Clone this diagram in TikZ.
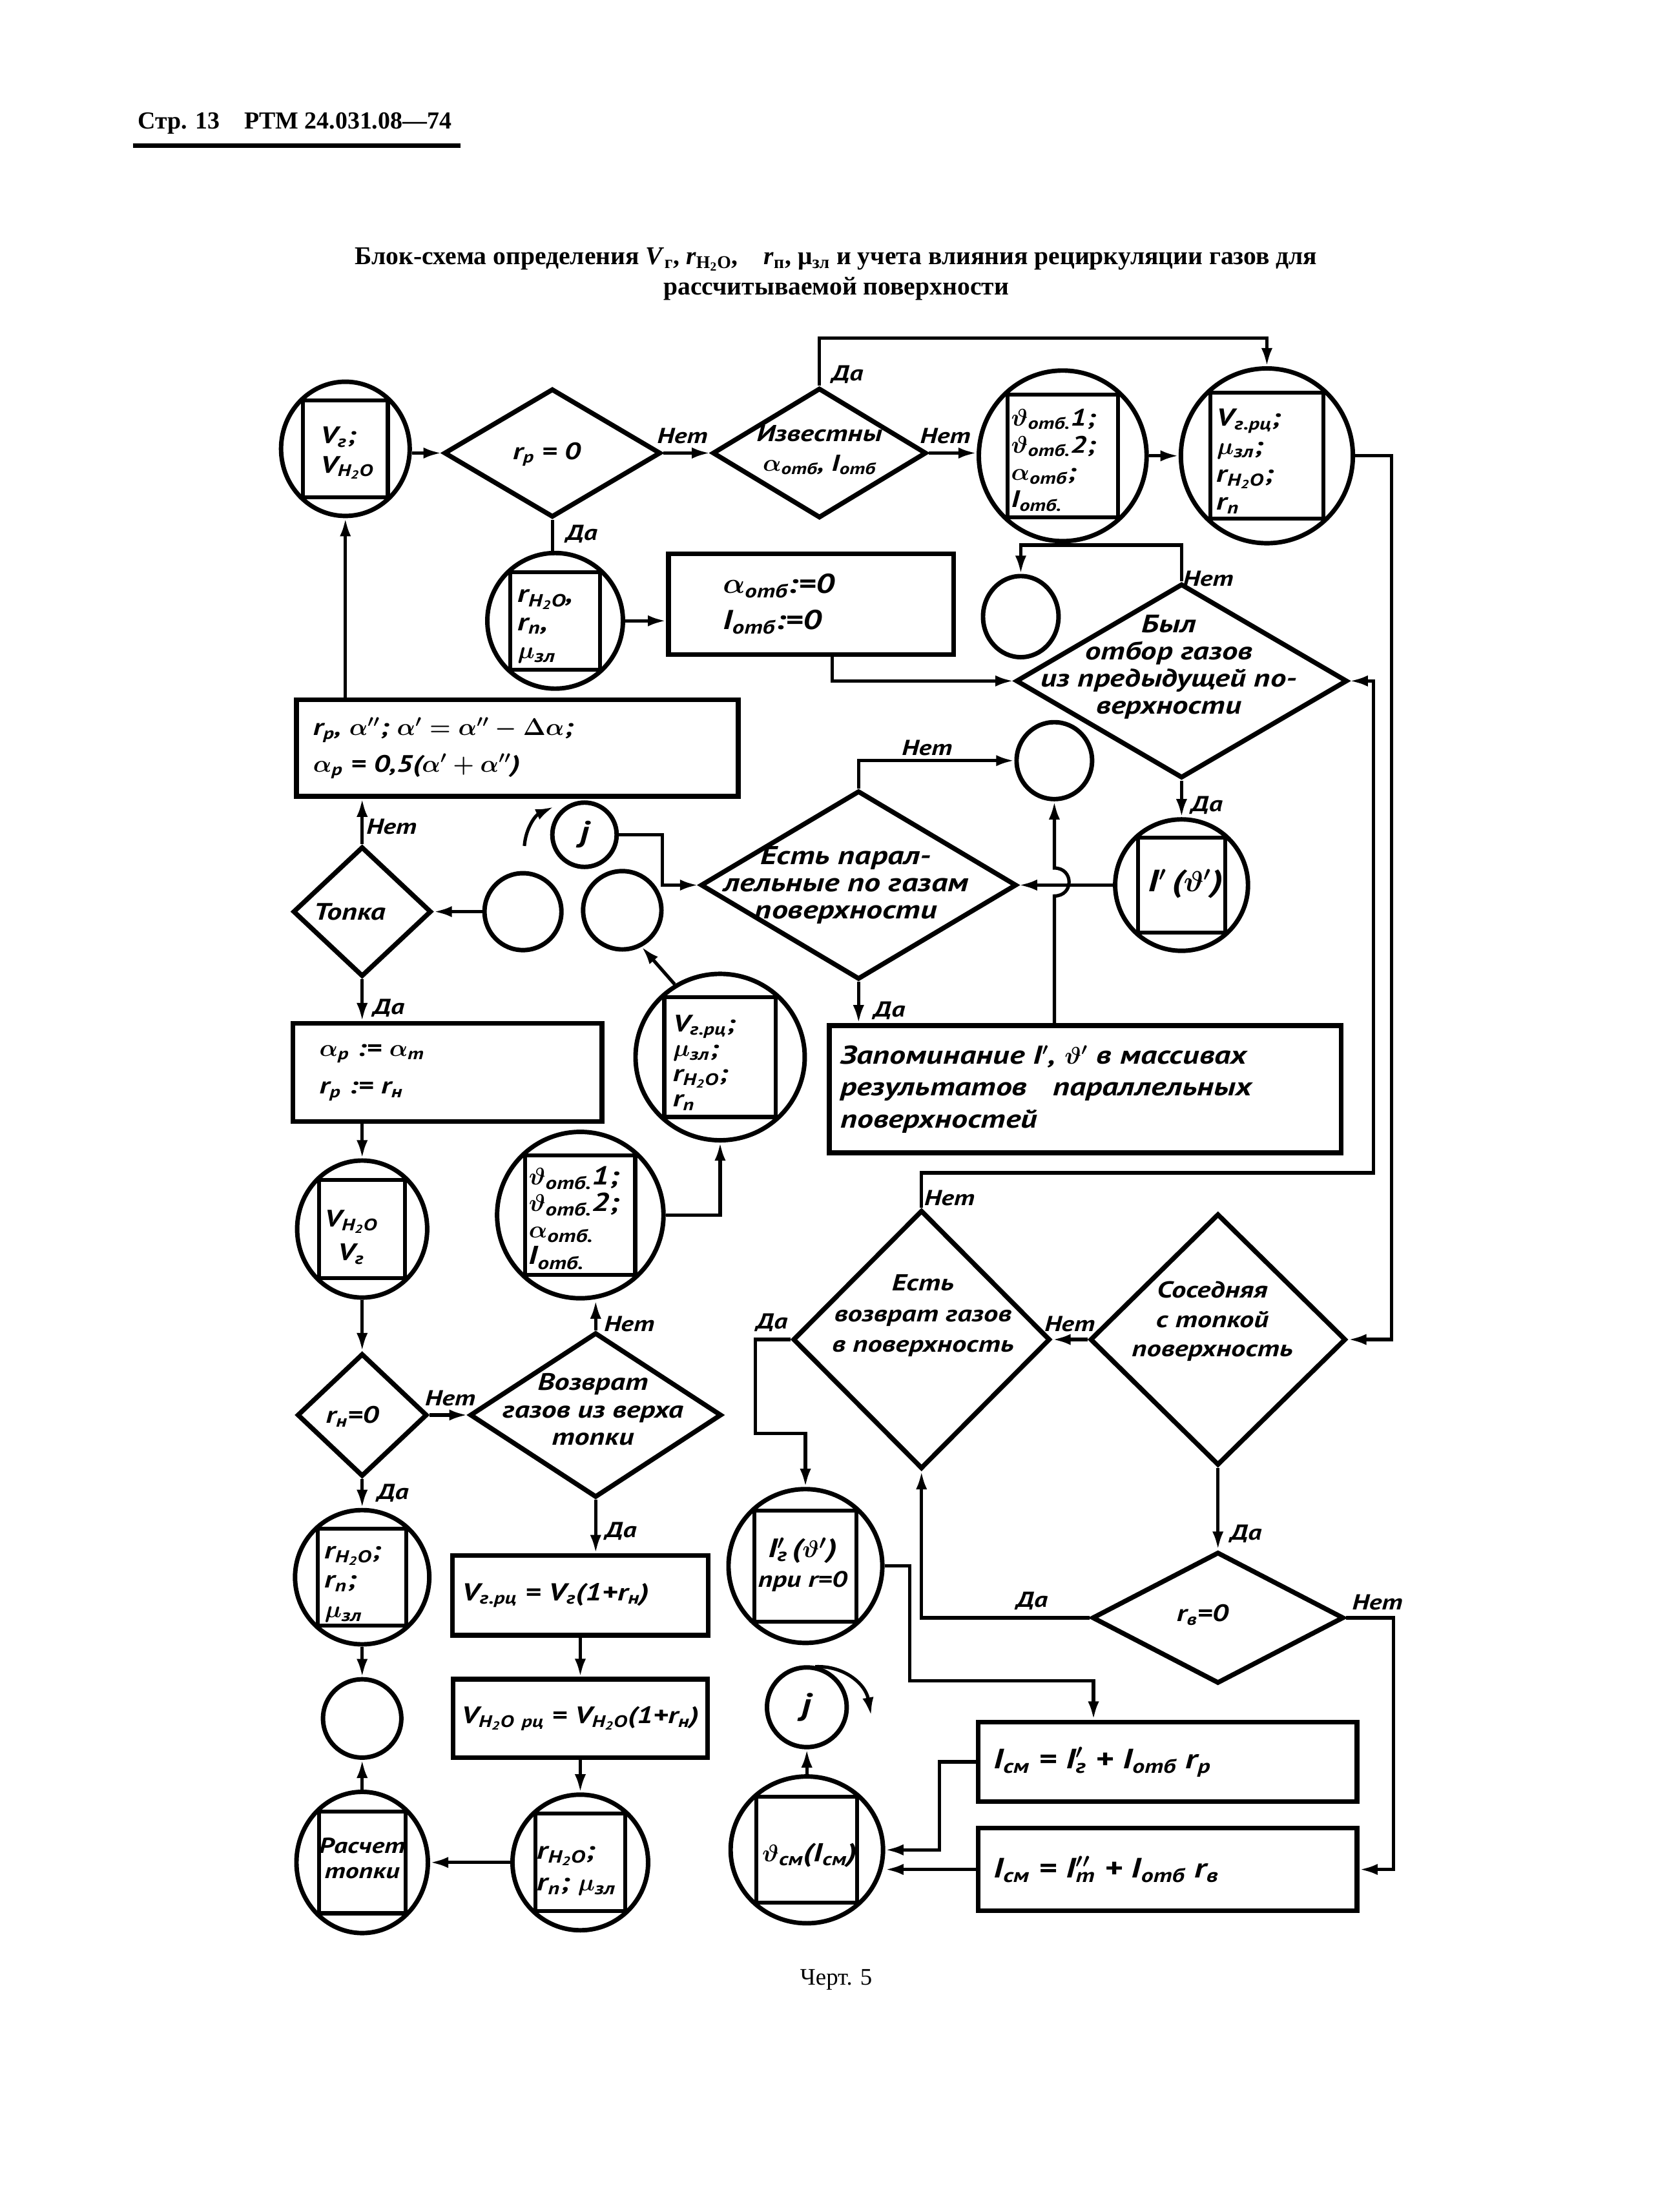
\documentclass[tikz,border=0pt]{standalone}
\usepackage{fontspec}
\setmainfont{Liberation Serif}
\newfontfamily\lab[FakeStretch=1.25]{PT Sans}
\usetikzlibrary{shapes.geometric,arrows.meta,calc}

\newcommand\razm[2]{\lab\bfseries\itshape\boldmath\fontsize{#1}{#2}\selectfont}
\newcommand\nz[1]{\textsubscript{#1}}
\newcommand\hdo{H\textsubscript{2}O}
\newcommand\shtr[1]{\rlap{$'$}\nz{#1}}
\newcommand\dshtr[1]{\rlap{$''$}\nz{#1}}

\tikzset{
  obv/.style={draw, line width=3.4pt},
  krug/.style={obv, ellipse, inner sep=0pt, line width=3.2pt},
  blok/.style={krug, path picture={
      \draw[x=1pt, y=1pt, line width=2.8pt]
        let \p1=(path picture bounding box.south west),
            \p2=(path picture bounding box.north east),
            \n1={0.5*(\x2-\x1)}, \n2={0.5*(\y2-\y1)},
            \n3={0.5*(\x2+\x1)}, \n4={0.5*(\y2+\y1)} in
        (\n3-0.66*\n1, \n4-0.72*\n2) rectangle (\n3+0.66*\n1, \n4+0.72*\n2)
        (\n3-\n1, \n4-0.72*\n2) -- (\n3+\n1, \n4-0.72*\n2)
        (\n3-\n1, \n4+0.72*\n2) -- (\n3+\n1, \n4+0.72*\n2);
    }},
  romb/.style={obv, diamond, inner sep=0pt},
  pr/.style={obv, rectangle, inner ysep=0pt, align=left, font=\razm{17}{22}},
  tx/.style={inner sep=0pt, align=left, font=\razm{17}{21}},
  nadp/.style={inner sep=0pt, font=\razm{15.5}{17}},
  sv/.style={line width=2.4pt, -{Latex[length=13pt,width=8pt]}},
  lin/.style={line width=2.4pt},
}

\begin{document}
\begin{tikzpicture}[x=1pt, y=-1pt]
  \fill[white] (0,0) rectangle (1200,1582);

  % шапка и заголовок
  \node[anchor=west, font=\bfseries\fontsize{17.5}{21}\selectfont] (str) at (95,88) {Стр. 13\quad РТМ 24.031.08—74};
  \draw[line width=3.2pt] ([yshift=-5pt]str.south west) -- ([yshift=-5pt,xshift=3pt]str.south east);
  \node[align=center, font=\bfseries\fontsize{18.3}{21.5}\selectfont] (zag) at (598,196)
    {Блок-схема определения \textit{V}\nz{г}, \textit{r}\nz{\hdo},\quad \textit{r}\nz{п}, μ\nz{зл} и учета влияния рециркуляции газов для\\рассчитываемой поверхности};
  \node[font=\fontsize{17}{20}\selectfont] (chert) at (598,1416) {Черт. 5};

  % верхний ряд
  \node[blok, minimum width=92pt, minimum height=96pt] (vg) at (247,321) {};
  \node[tx, anchor=west] (vg-t) at (229,324) {V\nz{г};\\V\nz{\hdo}};
  \node[romb, minimum width=155pt, minimum height=92pt] (rp) at (395,324) {};
  \node[tx] (rp-t) at (391,325) {r\nz{p} = 0};
  \node[romb, minimum width=153pt, minimum height=93pt] (izv) at (586,324) {};
  \node[tx, align=center, font=\razm{16.5}{21}] (izv-t) at (586,322) {Известны\\$\alpha$\nz{отб}, I\nz{отб}};
  \node[blok, minimum width=120pt, minimum height=122pt] (otb) at (760,326) {};
  \node[tx, anchor=west, font=\razm{17}{19.5}] (otb-t) at (723,329)
    {$\vartheta$\nz{отб.}1;\\$\vartheta$\nz{отб.}2;\\$\alpha$\nz{отб};\\I\nz{отб.}};
  \node[blok, minimum width=123pt, minimum height=125pt] (vrc) at (906,326) {};
  \node[tx, anchor=west, font=\razm{17.5}{20}] (vrc-t) at (870,330)
    {V\nz{г.рц};\\$\mu$\nz{зл};\\r\nz{\hdo};\\r\nz{п}};

  % второй ряд
  \node[blok, minimum width=97pt, minimum height=97pt] (rh) at (397,444) {};
  \node[tx, anchor=west, font=\razm{18}{20}] (rh-t) at (370,448) {r\nz{\hdo},\\r\nz{п},\\$\mu$\nz{зл}};
  \node[pr, minimum width=204pt, minimum height=72pt, inner xsep=39pt, text width=126pt, font=\razm{19.5}{22}] (nul) at (580,432)
    {$\alpha$\nz{отб}:=0\\[4pt]I\nz{отб}:=0};
  \node[krug, minimum width=54pt, minimum height=58pt] (pust1) at (730,441) {};
  \node[romb, minimum width=237pt, minimum height=139pt] (byl) at (845,487) {};
  \node[tx, align=center, font=\razm{18}{19.5}] (byl-t) at (836,477) {Был\\отбор газов\\из предыдущей по-\\верхности};

  % средняя часть
  \node[pr, minimum width=316pt, minimum height=69pt, inner xsep=12pt, text width=292pt] (alf) at (370,535)
    {r\nz{p}, $\alpha''$; $\alpha'=\alpha''-\Delta\alpha$;\\[4pt]$\alpha$\nz{p} = 0,5($\alpha'+\alpha''$)};
  \node[krug, minimum width=46pt, minimum height=46pt] (jv) at (418,597) {};
  \node[tx, font=\razm{21}{21}] (jv-t) at (jv) {j};
  \node[krug, minimum width=54pt, minimum height=55pt] (pust2) at (754,544) {};
  \node[romb, minimum width=226pt, minimum height=135pt] (par) at (614,633) {};
  \node[tx, align=center, font=\razm{18.5}{19.5}] (par-t) at (605,633) {Есть парал-\\лельные по газам\\поверхности};
  \node[blok, minimum width=95pt, minimum height=94pt] (ist) at (845,633) {};
  \node[tx, font=\razm{22}{22}] (ist-t) at (848,632) {I$'$\,($\vartheta'$)};
  \node[romb, minimum width=99pt, minimum height=93pt] (topka) at (259,652) {};
  \node[tx] (topka-t) at (250,652) {Топка};
  \node[krug, minimum width=55pt, minimum height=55pt] (pust3) at (374,652) {};
  \node[krug, minimum width=56pt, minimum height=56pt] (pust4) at (445,651) {};
  \node[blok, minimum width=121pt, minimum height=119pt] (vrc2) at (515,756) {};
  \node[tx, anchor=west, font=\razm{17}{18}] (vrc2-t) at (481,760)
    {V\nz{г.рц};\\$\mu$\nz{зл};\\r\nz{\hdo};\\r\nz{п}};
  \node[pr, minimum width=366pt, minimum height=91pt, inner xsep=8pt, text width=350pt, font=\razm{18.5}{23}] (zap) at (776,779)
    {Запоминание I$'$, $\vartheta'$ в массивах\\результатов\quad параллельных\\поверхностей};
  \node[pr, minimum width=221pt, minimum height=70pt, inner xsep=19pt, text width=183pt] (alfp) at (320,767)
    {$\alpha$\nz{p} := $\alpha$\nz{т}\\[5pt]r\nz{p} := r\nz{н}};

  % левая колонка
  \node[blok, minimum width=93pt, minimum height=98pt] (vh) at (259,879) {};
  \node[tx, align=center, font=\razm{17}{24}] (vh-t) at (251,885) {V\nz{\hdo}\\V\nz{г}};
  \node[romb, minimum width=93pt, minimum height=88pt] (rn) at (259,1012) {};
  \node[tx] (rn-t) at (252,1013) {r\nz{н}=0};
  \node[blok, minimum width=96pt, minimum height=96pt] (rh2) at (259,1128) {};
  \node[tx, anchor=west, font=\razm{17.5}{21}] (rh2-t) at (232,1133) {r\nz{\hdo};\\r\nz{п};\\$\mu$\nz{зл}};
  \node[krug, minimum width=56pt, minimum height=56pt] (pust5) at (259,1229) {};
  \node[blok, minimum width=94pt, minimum height=101pt] (rasch) at (259,1332) {};
  \node[tx, align=center, font=\razm{15.5}{18}] (rasch-t) at (259,1329) {Расчет\\топки};

  % возврат газов
  \node[blok, minimum width=119pt, minimum height=119pt] (otb2) at (415,869) {};
  \node[tx, anchor=west, font=\razm{18.5}{19}] (otb2-t) at (378,871)
    {$\vartheta$\nz{отб.}1;\\$\vartheta$\nz{отб.}2;\\$\alpha$\nz{отб.}\\I\nz{отб.}};
  \node[romb, minimum width=180pt, minimum height=118pt] (voz) at (426,1012) {};
  \node[tx, align=center, font=\razm{17}{19.5}] (voz-t) at (424,1008) {Возврат\\газов из верха\\топки};
  \node[pr, minimum width=183pt, minimum height=57pt, inner xsep=7pt, text width=169pt, font=\razm{17.5}{22}] (vgrc) at (415,1141)
    {V\nz{г.рц} = V\nz{г}(1+r\nz{н})};
  \node[pr, minimum width=182pt, minimum height=56pt, inner xsep=6pt, text width=170pt] (vhrc) at (415,1229)
    {V\nz{\hdo\ рц} = V\nz{\hdo}(1+r\nz{н})};
  \node[blok, minimum width=97pt, minimum height=97pt] (rh3) at (415,1332) {};
  \node[tx, anchor=west, font=\razm{18}{23}] (rh3-t) at (384,1338) {r\nz{\hdo};\\r\nz{п}; $\mu$\nz{зл}};

  % правая нижняя часть
  \node[romb, minimum width=184pt, minimum height=185pt] (est) at (659,958) {};
  \node[tx, align=center, font=\razm{16.5}{22}] (est-t) at (660,941) {Есть\\возврат газов\\в поверхность};
  \node[romb, minimum width=183pt, minimum height=180pt] (sos) at (871,958) {};
  \node[tx, align=center, font=\razm{16.5}{21}] (sos-t) at (867,945) {Соседняя\\с топкой\\поверхность};
  \node[romb, minimum width=180pt, minimum height=94pt] (rv) at (871,1157) {};
  \node[tx] (rv-t) at (860,1155) {r\nz{в}=0};
  \node[blok, minimum width=110pt, minimum height=110pt] (igr) at (576,1120) {};
  \node[tx, align=center, font=\razm{16}{21}] (igr-t) at (574,1119) {{\fontsize{19}{21}\selectfont I\shtr{г}\,($\vartheta'$)}\\при r=0};
  \node[pr, minimum width=271pt, minimum height=57pt, inner xsep=11pt, text width=249pt, font=\razm{20}{22}] (ism1) at (835,1260)
    {I\nz{см} = I\shtr{г} + I\nz{отб} r\nz{p}};
  \node[pr, minimum width=271pt, minimum height=59pt, inner xsep=11pt, text width=249pt, font=\razm{20}{22}] (ism2) at (835,1337)
    {I\nz{см} = I\dshtr{т} + I\nz{отб} r\nz{в}};
  \node[krug, minimum width=57pt, minimum height=57pt] (jn) at (577,1221) {};
  \node[tx, font=\razm{22}{22}] (jn-t) at (jn) {j};
  \node[blok, minimum width=109pt, minimum height=105pt] (tsm) at (577,1323) {};
  \node[tx, font=\razm{18.5}{20}] (tsm-t) at (579,1327) {$\vartheta$\nz{см}(I\nz{см})};

  % связи верхнего ряда
  \draw[sv] (vg.east |- rp.west) -- (rp.west);
  \draw[sv] (rp.east) -- (izv.west);
  \draw[sv] (izv.east) -- (izv.east -| otb.west);
  \draw[sv] (otb.east) -- (vrc.west);
  \draw[sv] (izv.north) -- ++(0,-34) -| (vrc.north);
  \draw[sv] (vrc.east) -- ++(26,0) |- (sos.east);
  \draw[lin] (rp.south) -- (rp.south |- rh.north);
  \draw[sv] (rh.east) -- (rh.east -| nul.west);
  \draw[sv] ([xshift=15pt]nul.south) |- (byl.west);
  \draw[sv] (byl.north) -- ++(0,-26) -| (pust1.north);
  \draw[sv] (byl.south) -- (byl.south |- ist.north);

  % параллельные поверхности
  \draw[sv] (ist.west) -- (ist.west -| par.east);
  \draw[sv] (par.north) |- (pust2.west);
  \draw[sv] (par.south) -- (par.south |- zap.north);
  \draw[sv] (zap.north -| pust2.south) -- ++(0,-91) to[out=0, in=0, looseness=1.8] ++(0,-20) -- (pust2.south);
  \draw[sv] (jv.east) -- ++(31,0) |- (par.west);
  \draw[sv] (375,605) .. controls (376,592) and (383,583) .. (396,577);
  \draw[sv] (pust3.west) -- (topka.east);
  \draw[sv] (vrc2.122) -- (pust4.-62);
  \draw[sv] (topka.north) -- (topka.north |- alf.south);
  \draw[sv] (alf.north -| vg.south) -- (vg.south);
  \draw[sv] (topka.south) -- (topka.south |- alfp.north);

  % левая колонка
  \draw[sv] (alfp.south -| vh.north) -- (vh.north);
  \draw[sv] (vh.south) -- (rn.north);
  \draw[sv] (rn.east) -- (voz.west);
  \draw[sv] (rn.south) -- (rh2.north);
  \draw[sv] (rh2.south) -- (pust5.north);
  \draw[sv] (rasch.north) -- (pust5.south);
  \draw[sv] (voz.north) -- (voz.north |- otb2.south);
  \draw[sv] (otb2.east) -| (vrc2.south);
  \draw[sv] (voz.south) -- (voz.south |- vgrc.north);
  \draw[sv] (vgrc.south) -- (vhrc.north);
  \draw[sv] (vhrc.south) -- (rh3.north);
  \draw[sv] (rh3.west) -- (rasch.east);

  % правая нижняя часть
  \draw[sv] (est.north) -- ++(0,-25) -| ([xshift=17pt]byl.east) -- (byl.east);
  \draw[sv] (sos.west) -- (est.east);
  \draw[sv] (sos.south) -- (rv.north);
  \draw[sv] (rv.west) -| (est.south);
  \draw[sv] (rv.east) -- ++(34,0) |- (ism2.east);
  \draw[sv] (est.west) -- ++(-25,0) -- ++(0,67) -| (igr.north);
  \draw[sv] (igr.east) -- ++(18,0) -- ++(0,82) -| ([xshift=-53pt]ism1.north);
  \draw[sv] (ism1.west) -- ++(-26,0) |- (tsm.east);
  \draw[sv] (ism2.west) -- (ism2.west -| tsm.east);
  \draw[sv] (tsm.north) -- (jn.south);
  \draw[sv] (583,1192) .. controls (603,1191) and (619,1204) .. (623,1227);

  % надписи да/нет
  \node[nadp] (n1) at (488,312) {Нет};
  \node[nadp] (n2) at (676,312) {Нет};
  \node[nadp] (d1) at (606,268) {Да};
  \node[nadp] (d2) at (416,382) {Да};
  \node[nadp] (n3) at (864,414) {Нет};
  \node[nadp] (d3) at (863,576) {Да};
  \node[nadp] (n4) at (663,535) {Нет};
  \node[nadp] (d4) at (636,723) {Да};
  \node[nadp] (n5) at (280,591) {Нет};
  \node[nadp] (d5) at (278,721) {Да};
  \node[nadp] (n6) at (322,1000) {Нет};
  \node[nadp] (n7) at (450,947) {Нет};
  \node[nadp] (d6) at (281,1068) {Да};
  \node[nadp] (d7) at (444,1095) {Да};
  \node[nadp] (n8) at (679,857) {Нет};
  \node[nadp] (n9) at (765,947) {Нет};
  \node[nadp] (d8) at (552,946) {Да};
  \node[nadp] (d9) at (891,1097) {Да};
  \node[nadp] (d10) at (738,1145) {Да};
  \node[nadp] (n10) at (985,1146) {Нет};
\end{tikzpicture}
\end{document}
